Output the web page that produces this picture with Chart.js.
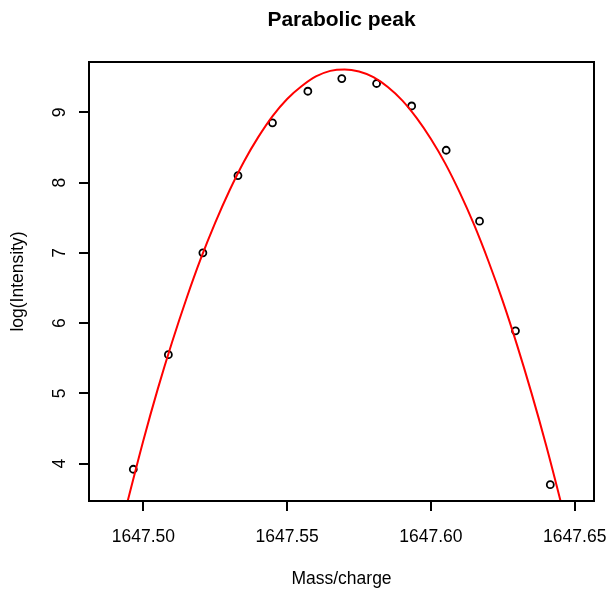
<!DOCTYPE html>
<html>
<head>
<meta charset="utf-8">
<script src="https://cdn.jsdelivr.net/npm/chart.js@4.4.1/dist/chart.umd.min.js"></script>
<style>
  body { margin: 0; background: #fff; }
  canvas { display: block; }
</style>
</head>
<body>
<canvas id="chart" width="614" height="597"></canvas>
<script>
// observed peaks (mass/charge, log intensity)
let massValues = [1647.4965, 1647.5087, 1647.5207, 1647.5329, 1647.5449, 1647.5572, 1647.5690,
    1647.5811, 1647.5933, 1647.6053, 1647.6169, 1647.6294, 1647.6415];
let logIntensity = [3.92, 5.55, 7.00, 8.10, 8.85, 9.30, 9.48, 9.41, 9.09, 8.46, 7.45, 5.89, 3.70];

// fitted parabola
let curveMass = [1647.4935, 1647.495, 1647.500, 1647.505, 1647.510, 1647.515, 1647.520, 1647.525,
    1647.530, 1647.535, 1647.540, 1647.545, 1647.550, 1647.555, 1647.560, 1647.565, 1647.570,
    1647.575, 1647.580, 1647.585, 1647.590, 1647.595, 1647.600, 1647.605, 1647.610, 1647.615,
    1647.620, 1647.625, 1647.630, 1647.635, 1647.640, 1647.645, 1647.6465];
let curveLog = [3.30, 3.54, 4.33, 5.06, 5.73, 6.35, 6.92, 7.43, 7.89, 8.30, 8.65, 8.95, 9.19,
    9.37, 9.51, 9.59, 9.61, 9.58, 9.50, 9.36, 9.17, 8.92, 8.62, 8.27, 7.86, 7.40, 6.88, 6.31,
    5.68, 5.00, 4.27, 3.48, 3.23];

let xTicks = [1647.50, 1647.55, 1647.60, 1647.65];
let yTicks = [4, 5, 6, 7, 8, 9];

let chartTitle = "Parabolic peak";
let xLabel = "Mass/charge";
let yLabel = "log(Intensity)";

let fontName = "'Liberation Sans', Arial, sans-serif";

let boxAndTitle = {
    id: "boxAndTitle",
    afterDraw(chart) {
        let ctx = chart.ctx;
        let area = chart.chartArea;
        ctx.save();
        ctx.strokeStyle = "#000";
        ctx.lineWidth = 2;
        ctx.strokeRect(area.left, area.top, area.right - area.left, area.bottom - area.top);
        ctx.fillStyle = "#000";
        ctx.font = "bold 21px " + fontName;
        ctx.textAlign = "center";
        ctx.textBaseline = "middle";
        ctx.fillText(chartTitle, (area.left + area.right) / 2, 20);
        ctx.restore();
    }
};

let points = massValues.map((m, i) => ({ x: m, y: logIntensity[i] }));
let curve = curveMass.map((m, i) => ({ x: m, y: curveLog[i] }));

new Chart(document.getElementById("chart").getContext("2d"), {
    type: "scatter",
    data: {
        datasets: [{
            label: "fit",
            data: curve,
            showLine: true,
            borderColor: "#ff0000",
            borderWidth: 2,
            pointRadius: 0,
            cubicInterpolationMode: "monotone",
            clip: 0,
            order: 0
        }, {
            label: "peaks",
            data: points,
            showLine: false,
            pointRadius: 3.5,
            pointBorderWidth: 1.8,
            pointBorderColor: "#000",
            pointBackgroundColor: "rgba(0,0,0,0)",
            order: 1
        }]
    },
    options: {
        responsive: false,
        animation: false,
        devicePixelRatio: 1,
        layout: { padding: { top: 62, right: 20, left: 0, bottom: 0 } },
        plugins: { legend: { display: false }, tooltip: { enabled: false } },
        scales: {
            x: {
                type: "linear",
                min: 1647.4811,
                max: 1647.6567,
                afterBuildTicks: (scale) => { scale.ticks = xTicks.map(v => ({ value: v })); },
                afterFit: (scale) => {
                    scale.height = 96;
                    scale.paddingLeft = 0;
                    scale.paddingRight = 0;
                },
                grid: { drawOnChartArea: false, color: "#000", lineWidth: 2, tickLength: 10 },
                border: { display: false },
                ticks: {
                    color: "#000",
                    font: { family: fontName, size: 17.5 },
                    padding: 16,
                    maxRotation: 0,
                    callback: (v) => v.toFixed(2)
                },
                title: {
                    display: true,
                    text: xLabel,
                    color: "#000",
                    font: { family: fontName, size: 17.5 },
                    padding: { top: 0, bottom: 7 }
                }
            },
            y: {
                type: "linear",
                min: 3.468,
                max: 9.716,
                afterBuildTicks: (scale) => { scale.ticks = yTicks.map(v => ({ value: v })); },
                afterFit: (scale) => {
                    scale.width = 89;
                    scale.paddingTop = 0;
                    scale.paddingBottom = 0;
                },
                grid: { drawOnChartArea: false, color: "#000", lineWidth: 2, tickLength: 10 },
                border: { display: false },
                ticks: {
                    color: "#000",
                    font: { family: fontName, size: 17.5 },
                    padding: 14,
                    minRotation: 90,
                    maxRotation: 90,
                    crossAlign: "center",
                    callback: (v) => String(v)
                },
                title: {
                    display: true,
                    text: yLabel,
                    color: "#000",
                    font: { family: fontName, size: 17.5 },
                    padding: { top: 8, bottom: 0 }
                }
            }
        }
    },
    plugins: [boxAndTitle]
});
</script>
</body>
</html>
